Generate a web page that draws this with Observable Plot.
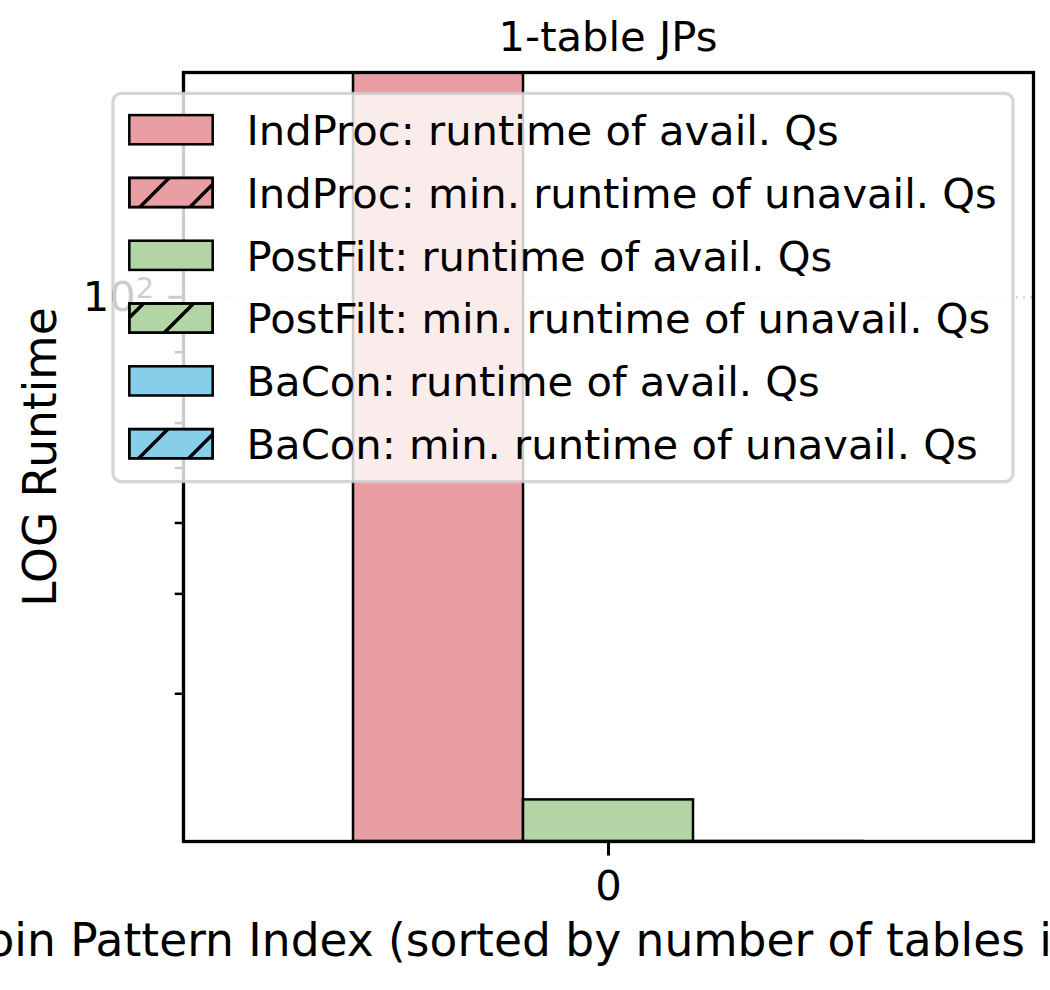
<!DOCTYPE html>
<html>
<head>
<meta charset="utf-8">
<script src="https://cdn.jsdelivr.net/npm/d3@7"></script>
<script src="https://cdn.jsdelivr.net/npm/@observablehq/plot@0.6"></script>
<style>
  html, body { margin: 0; padding: 0; background: #fff; overflow: hidden; }
  #chart { position: relative; width: 1050px; height: 990px; }
  #chart > svg { position: absolute; left: 0; top: 0; }
</style>
</head>
<body>
<div id="chart"></div>
<script>
// ---- data ----------------------------------------------------------------
const joinPatternIndex = [0];
const methodNames = ["IndProc", "PostFilt", "BaCon"];
const methodColors = ["#e89ea2", "#b3d4a4", "#87ceeb"];

// runtime per join pattern (log axis)
const indProcAvail = [300];
const indProcUnavailMin = [0];
const postFiltAvail = [13.0];
const postFiltUnavailMin = [0];
const baConAvail = [2];
const baConUnavailMin = [0];

const yMajorTicks = [100];
const yMinorTicks = [20, 30, 40, 50, 60, 70, 80, 90, 200];
const yDomain = [10.98, 249];

const legendLabels = [
  "IndProc: runtime of avail. Qs",
  "IndProc: min. runtime of unavail. Qs",
  "PostFilt: runtime of avail. Qs",
  "PostFilt: min. runtime of unavail. Qs",
  "BaCon: runtime of avail. Qs",
  "BaCon: min. runtime of unavail. Qs"
];
const titleText = "1-table JPs";
const xLabelText = "Join Pattern Index (sorted by number of tables in the JP)";
const yLabelText = "LOG Runtime";

// ---- table built from the arrays -------------------------------------------
const availBy = [indProcAvail, postFiltAvail, baConAvail];
const unavailBy = [indProcUnavailMin, postFiltUnavailMin, baConUnavailMin];
const rows = [];
methodNames.forEach((m, i) =>
  joinPatternIndex.forEach((jp, j) =>
    rows.push({jp, method: m, avail: availBy[i][j], unavail: unavailBy[i][j]})));

const FONT = "'DejaVu Sans', 'Liberation Sans', sans-serif";

const chart = Plot.plot({
  width: 1050,
  height: 990,
  marginLeft: 183,
  marginRight: 17,
  marginTop: 72,
  marginBottom: 149,
  style: {fontFamily: FONT, fontSize: "41.7px", color: "black", background: "transparent", overflow: "visible"},
  fx: {domain: joinPatternIndex, padding: 0, label: null},
  x: {domain: methodNames, paddingInner: 0, paddingOuter: 1, round: false, axis: null},
  y: {type: "log", domain: yDomain, axis: null},
  color: {domain: methodNames, range: methodColors},
  marks: [
    Plot.gridY(yMajorTicks, {stroke: "#b0b0b0", strokeOpacity: 0.6, strokeWidth: 2, strokeDasharray: "2,5"}),
    // runtime of available queries
    Plot.barY(rows.filter(d => d.avail > 0), {
      fx: "jp", x: "method", y1: yDomain[0], y2: "avail",
      fill: "method", stroke: "black", strokeWidth: 2.5, clip: true
    }),
    // min. runtime of unavailable queries, stacked and hatched
    Plot.barY(rows.filter(d => d.unavail > 0), {
      fx: "jp", x: "method", y1: "avail", y2: d => d.avail + d.unavail,
      fill: "method", stroke: "black", strokeWidth: 2.5, clip: true
    }),
    Plot.barY(rows.filter(d => d.unavail > 0), {
      fx: "jp", x: "method", y1: "avail", y2: d => d.avail + d.unavail,
      fill: "url(#hatch)", clip: true
    }),
    Plot.frame({stroke: "black", strokeWidth: 3.3}),
    Plot.axisY(yMajorTicks, {tickSize: 14.6, tickPadding: 14.6, strokeWidth: 3, tickFormat: d => `10^${Math.round(Math.log10(d))}`, label: null}),
    Plot.axisY(yMinorTicks, {tickSize: 8.3, tickPadding: 0, strokeWidth: 2.5, tickFormat: () => "", label: null}),
    Plot.axisFx({anchor: "bottom", tickSize: 14.6, tickPadding: 14.6, strokeWidth: 3, label: null})
  ]
});

// power-of-ten tick labels: base plus a raised, smaller exponent
d3.select(chart).selectAll("text").each(function() {
  const t = this.textContent;
  const m = /^10\^(\d+)$/.exec(t);
  if (!m) return;
  const sel = d3.select(this);
  sel.text("10");
  sel.append("tspan")
    .attr("dy", "-0.42em")
    .style("font-size", "29px")
    .text(m[1]);
});

const host = document.getElementById("chart");
host.appendChild(chart);

// ---- overlay: title, axis labels and legend ----------------------------------
const overlay = d3.create("svg")
  .attr("width", 1050)
  .attr("height", 990)
  .style("pointer-events", "none")
  .style("font-family", FONT);

const defs = overlay.append("defs");
const pat = defs.append("pattern")
  .attr("id", "hatch")
  .attr("patternUnits", "userSpaceOnUse")
  .attr("width", 50)
  .attr("height", 50)
  .attr("patternTransform", "translate(47,0)");
pat.append("path")
  .attr("d", "M0,50L50,0M-10,10L10,-10M40,60L60,40")
  .attr("stroke", "black")
  .attr("stroke-width", 3.5)
  .attr("fill", "none");

overlay.append("text")
  .attr("x", 608).attr("y", 51)
  .attr("text-anchor", "middle")
  .style("font-size", "41.7px")
  .text(titleText);

overlay.append("text")
  .attr("transform", "translate(56,457) rotate(-90)")
  .attr("text-anchor", "middle")
  .style("font-size", "45.5px")
  .text(yLabelText);

overlay.append("text")
  .attr("x", 608).attr("y", 956)
  .attr("text-anchor", "middle")
  .style("font-size", "45.5px")
  .text(xLabelText);

// legend box
const lg = overlay.append("g");
lg.append("rect")
  .attr("x", 113).attr("y", 93.3)
  .attr("width", 900).attr("height", 388.4)
  .attr("rx", 8.3).attr("ry", 8.3)
  .attr("fill", "white").attr("fill-opacity", 0.8)
  .attr("stroke", "#cccccc").attr("stroke-opacity", 0.8)
  .attr("stroke-width", 3.3);

legendLabels.forEach((label, i) => {
  const cy = 129.7 + i * 62.8;
  const color = methodColors[Math.floor(i / 2)];
  const hatched = i % 2 === 1;
  lg.append("rect")
    .attr("x", 129.3).attr("y", cy - 14.6)
    .attr("width", 83.4).attr("height", 29.2)
    .attr("fill", color)
    .attr("stroke", "black").attr("stroke-width", 2.5);
  if (hatched) {
    lg.append("rect")
      .attr("x", 129.3).attr("y", cy - 14.6)
      .attr("width", 83.4).attr("height", 29.2)
      .attr("fill", "url(#hatch)")
      .attr("stroke", "black").attr("stroke-width", 2.5);
  }
  lg.append("text")
    .attr("x", 246.5).attr("y", cy + 15.2)
    .style("font-size", "41.7px")
    .text(label);
});

host.appendChild(overlay.node());
</script>
</body>
</html>
